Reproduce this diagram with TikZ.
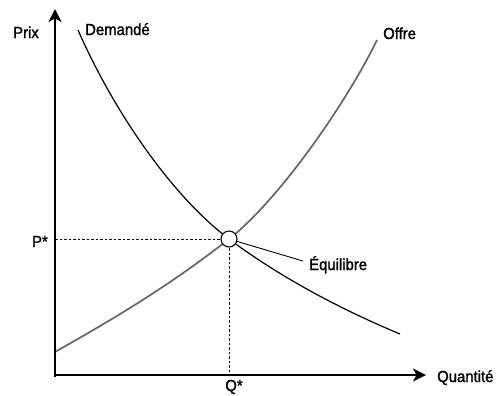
\documentclass[tikz,border=0pt]{standalone}
\usepackage{fontspec}
\setmainfont{Liberation Sans}[FakeStretch=0.93,FakeBold=1.4]
\usetikzlibrary{arrows.meta}
\tikzset{
  axis/.style={line width=1.5bp, -{Stealth[length=13bp,width=13bp,inset=3.5bp]}},
  demand/.style={line width=1.2bp, black},
  supply/.style={line width=1.7bp, gray!80!black},
  guide/.style={line width=0.9bp, dash pattern=on 2.5bp off 2bp},
  lbl/.style={font=\fontsize{16bp}{18bp}\selectfont, inner sep=0pt},
  eqpt/.style={circle, draw, fill=white, line width=1.1bp, minimum size=16bp, inner sep=0pt}
}
\begin{document}
\begin{tikzpicture}[x=1bp,y=-1bp]
\useasboundingbox (0,0) rectangle (502,395);
\coordinate (O) at (55,377);
\coordinate (ytop) at (55,9);
\coordinate (xend) at (426,375);
\coordinate (xstart) at (54.3,375);
\coordinate (Pax) at (55,239);
\coordinate (Qax) at (229,375);
\coordinate (dstart) at (78,30);
\coordinate (dend) at (400,334);
\coordinate (sstart) at (55,352);
\coordinate (send) at (377,40);
\coordinate (E) at (229,239);
\coordinate (eqlineend) at (303,261);
% curves
\draw[supply] (sstart) .. controls (115,318) and (169,286) .. (E)
  .. controls (279,200) and (347,102) .. (send);
\draw[demand] (dstart) .. controls (114,112) and (172,196) .. (E)
  .. controls (284,280) and (345,311) .. (dend);
% guides
\draw[guide] (Pax) -- (E);
\draw[guide] (E) -- (Qax);
% axes
\draw[axis] (O) -- (ytop);
\draw[axis] (xstart) -- (xend);
% equilibrium
\node[eqpt] (eq) at (E) {};
\draw[line width=0.9bp] (eq) -- (eqlineend);
% labels
\node[lbl, anchor=base west] (prix) at (13,38) {Prix};
\node[lbl, anchor=base west] (dem) at (85,35) {Demandé};
\node[lbl, anchor=base west] (off) at (383,39) {Offre};
\node[lbl, anchor=base east] (pstar) at (48,247) {P*};
\node[lbl, anchor=base] (qstar) at (234,391) {Q*};
\node[lbl, anchor=base west] (equil) at (309,270) {Équilibre};
\node[lbl, anchor=base west] (quant) at (437,382) {Quantité};
\end{tikzpicture}
\end{document}
